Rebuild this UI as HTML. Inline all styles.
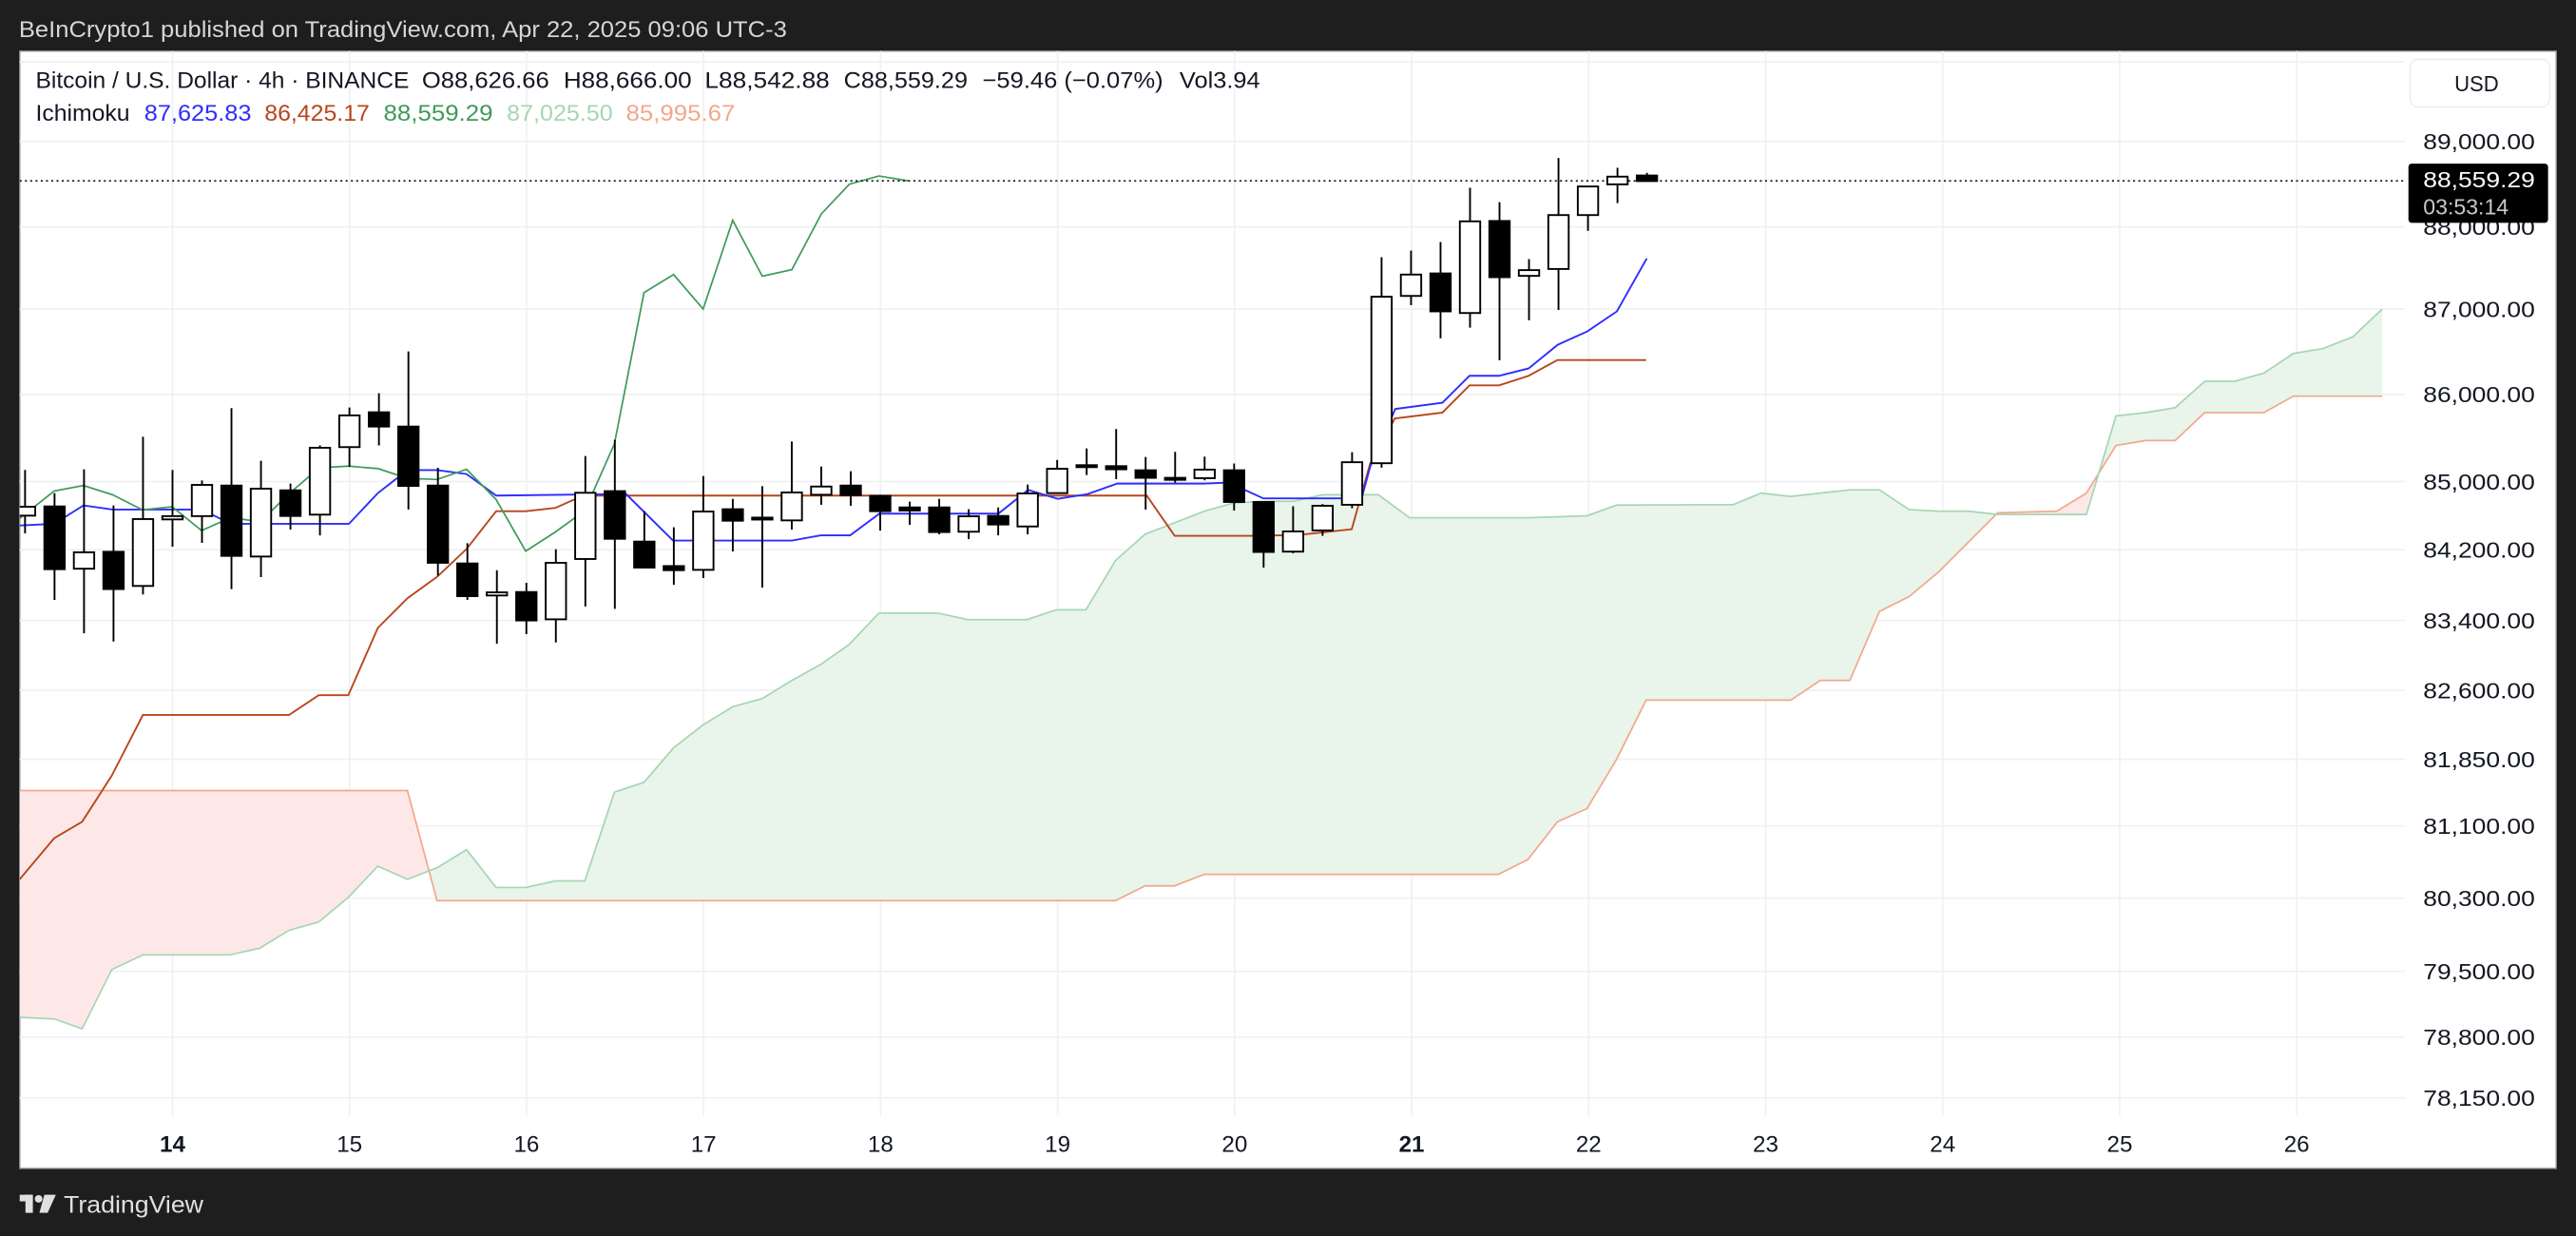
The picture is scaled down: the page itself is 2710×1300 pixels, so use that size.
<!DOCTYPE html>
<html><head><meta charset="utf-8"><style>
html,body{margin:0;padding:0;background:#1e1e1e;}
svg{display:block;}
text{font-family:"Liberation Sans",sans-serif;}
</style></head><body>
<svg id="s" width="2710" height="1300" viewBox="0 0 1568 752" xmlns="http://www.w3.org/2000/svg">
<rect x="0" y="0" width="1568" height="752" fill="#1e1e1e"/>
<text x="11.5" y="22.5" font-size="14" fill="#d6d6d6" textLength="467.5" lengthAdjust="spacingAndGlyphs">BeInCrypto1 published on TradingView.com, Apr 22, 2025 09:06 UTC-3</text>
<rect x="12" y="31" width="1544" height="680" fill="#ffffff" stroke="#8a8a8a" stroke-width="0.8"/>
<g id="grid" stroke="#f0f1f3" stroke-width="1"></g>
<defs>
<clipPath id="belowA"><polygon id="cpA"/></clipPath>
<clipPath id="belowB"><polygon id="cpB"/></clipPath>
<clipPath id="plot"><rect x="12" y="31" width="1452" height="650"/></clipPath>
</defs>
<g clip-path="url(#plot)">
<g clip-path="url(#belowA)"><polygon id="fillG" fill="#e9f4ea"/></g>
<g clip-path="url(#belowB)"><polygon id="fillR" fill="#fde8e7"/></g>
<polyline id="spanB" fill="none" stroke="#f2a88c" stroke-width="1"/>
<polyline id="spanA" fill="none" stroke="#a6d6b2" stroke-width="1"/>
<polyline id="kijun" fill="none" stroke="#b8461d" stroke-width="1.1"/>
<polyline id="tenkan" fill="none" stroke="#2d2dff" stroke-width="1.1"/>
<polyline id="chikou" fill="none" stroke="#3f9a5a" stroke-width="1"/>
<line x1="12" y1="110" x2="1464" y2="110" stroke="#131722" stroke-width="1" stroke-dasharray="1.2,2"/>
<g id="candles"></g>
</g>
<text x="21.7" y="53.5" font-size="14" fill="#131722" textLength="227.3" lengthAdjust="spacingAndGlyphs">Bitcoin / U.S. Dollar · 4h · BINANCE</text>
<text x="256.8" y="53.5" font-size="14" fill="#131722" textLength="77.5" lengthAdjust="spacingAndGlyphs">O88,626.66</text>
<text x="343" y="53.5" font-size="14" fill="#131722" textLength="78" lengthAdjust="spacingAndGlyphs">H88,666.00</text>
<text x="429" y="53.5" font-size="14" fill="#131722" textLength="76" lengthAdjust="spacingAndGlyphs">L88,542.88</text>
<text x="513.6" y="53.5" font-size="14" fill="#131722" textLength="75.4" lengthAdjust="spacingAndGlyphs">C88,559.29</text>
<text x="598" y="53.5" font-size="14" fill="#131722" textLength="110" lengthAdjust="spacingAndGlyphs">−59.46 (−0.07%)</text>
<text x="718" y="53.5" font-size="14" fill="#131722" textLength="49" lengthAdjust="spacingAndGlyphs">Vol3.94</text>
<text x="21.7" y="73.5" font-size="14" fill="#131722" textLength="57.3" lengthAdjust="spacingAndGlyphs">Ichimoku</text>
<text x="87.8" y="73.5" font-size="14" fill="#2d2dff" textLength="65.2" lengthAdjust="spacingAndGlyphs">87,625.83</text>
<text x="161" y="73.5" font-size="14" fill="#b8461d" textLength="64" lengthAdjust="spacingAndGlyphs">86,425.17</text>
<text x="233.5" y="73.5" font-size="14" fill="#3f9a5a" textLength="66.5" lengthAdjust="spacingAndGlyphs">88,559.29</text>
<text x="308.5" y="73.5" font-size="14" fill="#a6d6b2" textLength="64.5" lengthAdjust="spacingAndGlyphs">87,025.50</text>
<text x="381" y="73.5" font-size="14" fill="#f2a88c" textLength="66.5" lengthAdjust="spacingAndGlyphs">85,995.67</text>
<rect x="1467" y="36" width="85" height="29" rx="5" fill="#fff" stroke="#ececec" stroke-width="0.8"/>
<text x="1494" y="55.5" font-size="13.5" fill="#131722" textLength="27" lengthAdjust="spacingAndGlyphs">USD</text>
<g id="plabels" font-size="13.5" fill="#131722"></g>
<rect x="1466" y="99.5" width="85" height="36" rx="2" fill="#000"/>
<text x="1475" y="114" font-size="13.5" fill="#fff" textLength="68" lengthAdjust="spacingAndGlyphs">88,559.29</text>
<text x="1475" y="130.5" font-size="13.5" fill="#c8c8c8" textLength="52" lengthAdjust="spacingAndGlyphs">03:53:14</text>
<g id="dlabels" font-size="14" fill="#131722" text-anchor="middle"></g>
<g fill="#e0e0e0">
<rect x="12" y="727" width="8" height="4"/><rect x="15.5" y="727" width="4.5" height="11"/>
<circle cx="23.5" cy="729.5" r="2.3"/><polygon points="27,727 34,727 29,738 24,738"/>
</g>
<text x="38.8" y="738" font-size="14.5" fill="#e0e0e0" textLength="85" lengthAdjust="spacingAndGlyphs">TradingView</text>
</svg>
<script>
var NS="http://www.w3.org/2000/svg";
function el(p,t,a,txt){var e=document.createElementNS(NS,t);for(var k in a)e.setAttribute(k,a[k]);if(txt!==undefined)e.textContent=txt;p.appendChild(e);return e;}
var grid=document.getElementById('grid');
var prices=[["89,000.00",86],["88,000.00",138],["87,000.00",188],["86,000.00",240],["85,000.00",293],["84,200.00",334.5],["83,400.00",377.5],["82,600.00",420],["81,850.00",462],["81,100.00",502.5],["80,300.00",546.5],["79,500.00",591],["78,800.00",631],["78,150.00",668]];
el(grid,'line',{x1:12,x2:1464,y1:37.6,y2:37.6});
prices.forEach(function(p){el(grid,'line',{x1:12,x2:1464,y1:p[1],y2:p[1]});
 el(document.getElementById('plabels'),'text',{x:1475,y:p[1]+4.8,textLength:68,lengthAdjust:'spacingAndGlyphs'},p[0]);});
var days=[14,15,16,17,18,19,20,21,22,23,24,25,26];
days.forEach(function(d,i){var x=105+i*107.75;el(grid,'line',{x1:x,x2:x,y1:31,y2:679});
 var a={x:x,y:701};if(d==14||d==21)a['font-weight']='bold';el(document.getElementById('dlabels'),'text',a,String(d));});
function pts(a){return a.map(function(p){return p[0]+','+p[1]}).join(' ');}
var A=[[12,619],[33,620],[50,626],[68,590],[87,581],[104,581],[140,581],[158,577],[176,566],[194,561],[212,546],[230,527],[248,535],[266,528],[284,517],[302,540],[320,540],[338,536],[356,536],[374,482],[392,476],[410,455],[428,441],[446,430],[464,425],[482,414],[500,404],[517,392],[535,373],[553,373],[571,373],[589,377],[607,377],[625,377],[643,371],[661,371],[679,341],[697,325],[715,318],[733,311],[751,306],[769,305],[787,305],[805,301],[839,301],[858,315],[930,315],[966,313.8],[984,307.3],[1055,307],[1072,300],[1090,302],[1108,300],[1126,298],[1144,298],[1162,310],[1180,311],[1198,311],[1216,313],[1270,313],[1288,253],[1306,251],[1324,248],[1342,232],[1360,232],[1378,227],[1396,215],[1414,212],[1432,205],[1450,188]];
var B=[[12,481],[248,481],[266,548],[679,548],[697,539],[715,539],[733,532],[912,532],[930,523],[948,500],[966,492],[984,462],[1002,426],[1090,426],[1108,414],[1126,414],[1144,372],[1162,363],[1180,348],[1198,330],[1216,312],[1252,311],[1270,300],[1288,271],[1306,268],[1324,268],[1342,251],[1378,251],[1396,241],[1450,241]];
document.getElementById('spanA').setAttribute('points',pts(A));
document.getElementById('spanB').setAttribute('points',pts(B));
document.getElementById('cpA').setAttribute('points',pts(A)+' 1450,752 12,752');
document.getElementById('cpB').setAttribute('points',pts(B)+' 1450,752 12,752');
document.getElementById('fillG').setAttribute('points',pts(B)+' 1450,0 12,0');
document.getElementById('fillR').setAttribute('points',pts(A)+' 1450,0 12,0');
var K=[[12,535],[33,510],[50,500],[68,472],[87,435],[176,435],[194,423],[212,423],[230,382],[248,364],[266,351],[284,334],[302,311],[320,311],[338,309],[355,301.5],[698,301.5],[715,326],[763,326],[790,325.5],[822.8,322],[834,282],[849,254.6],[878,251],[894.5,234.4],[912.5,234.4],[930.5,228.6],[948,219],[1002,219]];
var T=[[12,319.7],[33,318.7],[50.8,307.5],[68.6,310],[122.7,310],[140.5,318.7],[212.4,318.7],[230,300],[248,286],[266,286],[284,288.4],[302,301.5],[381,300.5],[409.7,328.9],[482,328.9],[499.6,325.7],[517.5,325.7],[535.3,312.5],[607.7,312.5],[625.8,298.1],[643.9,303.5],[662,300.6],[680,294.2],[733,294.2],[748,293.6],[769,303.2],[816,303.2],[829,302.5],[834,284],[849.3,248.8],[878,245],[894.5,228.6],[912.5,228.6],[930.5,224.1],[948.2,209.7],[966.2,201.6],[984.2,189.4],[1002.4,157.2]];
var C=[[12,315.4],[33,298.7],[50.8,295.4],[68.6,301],[86.7,310.2],[104.8,308.3],[122.7,322.8],[140.5,314.9],[158.4,317.4],[176.4,300],[194.3,284.6],[212.4,283.6],[230.2,285.1],[248,291],[266,291.7],[284,285.5],[302,303.9],[320,335.3],[338,323.7],[356,310.6],[374,270],[392,178],[410,167],[428,188],[446,134],[464,168],[482,164],[500,130],[517,112],[535,107],[553,110]];
document.getElementById('kijun').setAttribute('points',pts(K));
document.getElementById('tenkan').setAttribute('points',pts(T));
document.getElementById('chikou').setAttribute('points',pts(C));
// [bodyTop, bodyBot, wickTop, wickBot, filled]
var D=[[308.3,313.7,285.9,324.5,0],[308.1,346.3,300,365,1],[336,346,285.5,385.3,0],[335.7,358.4,307.5,390.3,1],[315.8,356.5,265.7,361.7,0],[314,316,285.9,332.6,0],[295,314,292.3,330.3,0],[295.4,338.2,248.3,358.4,1],[297.3,338.6,280.3,351.1,0],[298.3,313.9,294.2,322.2,1],[272.4,313.1,271,325.7,0],[252.7,272,247.9,284,0],[250.8,259.5,239.2,271,1],[259.5,295.6,213.8,310,1],[295.4,342.4,284.6,350.2,1],[342.8,362.7,330.5,365,1],[360.4,362.3,346.9,391.6,0],[360.2,377.5,354.6,385.8,1],[342.4,376.8,334.1,390.9,0],[299.8,340.1,277.4,369,0],
[298.8,327.8,267.6,370.4,1],[329.5,345.3,311,345.3,1],[344.4,346.9,320.8,355.8,1],[311.2,346.7,289.6,351.7,0],[309.8,316.8,303.5,335.5,1],[314.9,316,295.8,357.5,1],[299.6,316.6,268.6,322.2,0],[296,301,283.8,307.1,0],[295.4,301.2,286.7,307.7,1],[301.7,311,301,322.8,1],[308.7,310.6,305.2,319.3,1],[308.7,323.7,303.5,325.1,1],[314.1,323.5,309.8,328,0],[313.9,319.1,308.7,325.7,1],[300.2,320.3,294.8,325.1,0],[285.2,300,279.8,300,0],[283,284,272.8,289,1],[283.6,285.5,261,291.5,1],[286.1,290.7,278,310,1],
[290.7,291.7,274.9,293.6,1],[285.7,290.9,277.8,292.2,0],[286.1,305.4,282,310.6,1],[305.4,335.8,305,345.3,1],[323.3,335.6,308,336.6,0],[307.7,322.7,306.7,326,0],[281.2,307.1,275.1,309.2,0],[180.5,281.8,156.4,284.5,0],[167,180,152.4,185.6,0],[166.3,189.4,147.2,205.8,1],[134.6,190.4,114.2,199.3,0],[134.4,168.6,122.9,219.1,1],[164.3,167.8,157.6,194.8,0],[130.8,163.6,96,188.5,0],[113.4,130.8,113.4,140.4,0],[107.4,112.1,102,123.5,0],[106.7,110.1,105.1,110.1,1]];
var g=document.getElementById('candles');
D.forEach(function(c,i){var x=15.25+i*17.95;
 el(g,'line',{x1:x,x2:x,y1:c[2],y2:c[3],stroke:'#000','stroke-width':1.1});
 var h=Math.max(c[1]-c[0],1.2);
 el(g,'rect',{x:x-6.2,y:c[0],width:12.4,height:h,fill:c[4]?'#000':'#fff',stroke:'#000','stroke-width':1.1});});
</script>
</body></html>
